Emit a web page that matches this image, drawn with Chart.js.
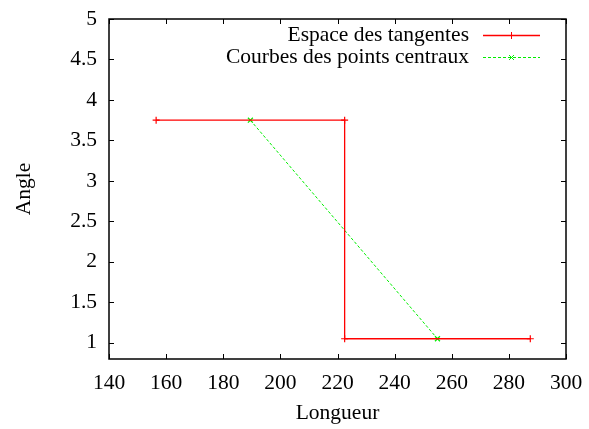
<!DOCTYPE html>
<html>
<head>
<meta charset="utf-8">
<script src="https://cdn.jsdelivr.net/npm/chart.js@4"></script>
<style>
  html, body { margin: 0; padding: 0; background: #fff; }
  #wrap { width: 589px; height: 429px; }
</style>
</head>
<body>
<div id="wrap"><canvas id="c" width="589" height="429"></canvas></div>
<script>
// données
const tangX = [156.5, 222.5, 222.5, 287.5];
const tangY = [3.75, 3.75, 1.05, 1.05];
const centX = [189.5, 255];
const centY = [3.75, 1.05];
const xTicks = [140, 160, 180, 200, 220, 240, 260, 280, 300];
const yTicks = [1, 1.5, 2, 2.5, 3, 3.5, 4, 4.5, 5];
const labels = ["Espace des tangentes", "Courbes des points centraux"];

const FONT = '"Liberation Serif", "DejaVu Serif", serif';
const FS = 21.5;

// petites graduations vers l'intérieur sur les quatre côtés (style gnuplot)
const innerTicks = {
  id: "innerTicks",
  afterDraw(chart) {
    const { ctx, chartArea: a, scales } = chart;
    const L = 5;
    ctx.save();
    ctx.strokeStyle = "#000";
    ctx.lineWidth = 1;
    ctx.beginPath();
    xTicks.forEach(v => {
      const px = Math.round(scales.x.getPixelForValue(v)) + 0.5;
      ctx.moveTo(px, a.bottom); ctx.lineTo(px, a.bottom - L);
      ctx.moveTo(px, a.top); ctx.lineTo(px, a.top + L);
    });
    yTicks.forEach(v => {
      const py = Math.round(scales.y.getPixelForValue(v)) + 0.5;
      ctx.moveTo(a.left, py); ctx.lineTo(a.left + L, py);
      ctx.moveTo(a.right, py); ctx.lineTo(a.right - L, py);
    });
    ctx.stroke();
    ctx.lineWidth = 1.5;
    ctx.strokeRect(a.left, a.top, a.right - a.left, a.bottom - a.top);
    ctx.restore();
  }
};

// légende à la gnuplot : texte aligné à droite puis échantillon de ligne
const gpLegend = {
  id: "gpLegend",
  afterDraw(chart) {
    const { ctx } = chart;
    const textRight = 469, x0 = 483, x1 = 540;
    ctx.save();
    ctx.font = FS + "px " + FONT;
    ctx.textAlign = "right";
    ctx.textBaseline = "middle";
    chart.data.datasets.forEach((ds, i) => {
      const y = 35 + i * 22;
      ctx.fillStyle = "#000";
      ctx.fillText(ds.label, textRight, y);
      ctx.strokeStyle = ds.borderColor;
      ctx.lineWidth = ds.borderWidth;
      ctx.setLineDash(ds.borderDash || []);
      ctx.beginPath();
      ctx.moveTo(x0, y + 0.5); ctx.lineTo(x1, y + 0.5);
      ctx.stroke();
      ctx.setLineDash([]);
      ctx.lineWidth = 1;
      Chart.helpers.drawPoint(ctx, {
        pointStyle: ds.pointStyle, radius: ds.pointRadius, borderWidth: 1.2, rotation: 0
      }, (x0 + x1) / 2, y + 0.5);
    });
    ctx.restore();
  }
};

const ctx = document.getElementById("c");
new Chart(ctx, {
  type: "scatter",
  data: {
    datasets: [
      {
        label: labels[0],
        data: tangX.map((x, i) => ({ x, y: tangY[i] })),
        showLine: true,
        borderColor: "#ff0000",
        backgroundColor: "#ff0000",
        borderWidth: 1.3,
        pointStyle: "cross",
        pointRadius: 3.5,
        pointBorderWidth: 1.2,
        pointBorderColor: "#ff0000"
      },
      {
        label: labels[1],
        data: centX.map((x, i) => ({ x, y: centY[i] })),
        showLine: true,
        borderColor: "#00ee00",
        backgroundColor: "#00ee00",
        borderWidth: 1,
        borderDash: [3, 2],
        pointStyle: "crossRot",
        pointRadius: 3.5,
        pointBorderWidth: 1.2,
        pointBorderColor: "#00ee00"
      }
    ]
  },
  options: {
    responsive: false,
    animation: false,
    layout: { padding: { left: 0, right: 23, top: 19, bottom: 0 } },
    plugins: {
      legend: { display: false },
      tooltip: { enabled: false }
    },
    scales: {
      x: {
        type: "linear",
        min: 140, max: 300,
        afterBuildTicks: s => { s.ticks = xTicks.map(v => ({ value: v })); },
        afterFit: s => { s.height = 70; s.paddingLeft = 0; s.paddingRight = 0; },
        grid: { display: false, drawTicks: false },
        border: { display: false },
        ticks: { color: "#000", padding: 11, font: { family: FONT, size: FS }, maxRotation: 0 },
        title: { display: true, text: "Longueur", color: "#000", font: { family: FONT, size: FS }, padding: { top: 0, bottom: 3 } }
      },
      y: {
        type: "linear",
        min: 0.8, max: 5,
        afterBuildTicks: s => { s.ticks = yTicks.map(v => ({ value: v })); },
        afterFit: s => { s.width = 109; s.paddingTop = 0; s.paddingBottom = 0; },
        grid: { display: false, drawTicks: false },
        border: { display: false },
        ticks: { color: "#000", padding: 12, font: { family: FONT, size: FS }, callback: v => String(v) },
        title: { display: true, text: "Angle", color: "#000", font: { family: FONT, size: FS }, padding: { top: 11, bottom: 0 } }
      }
    }
  },
  plugins: [innerTicks, gpLegend]
});
</script>
</body>
</html>
